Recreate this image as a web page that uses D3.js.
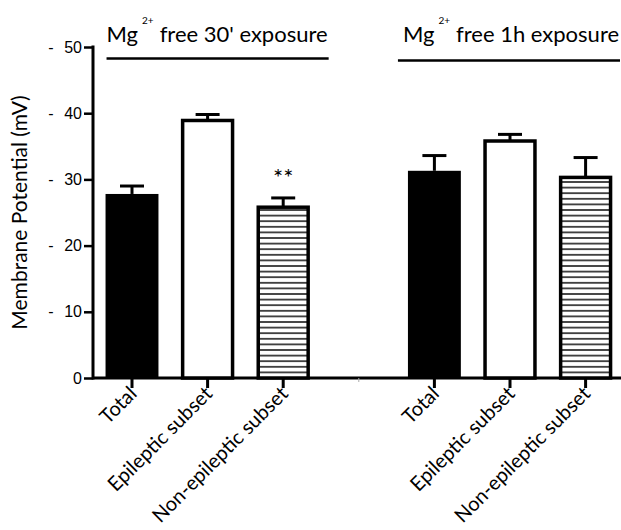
<!DOCTYPE html>
<html>
<head>
<meta charset="utf-8">
<script src="https://cdn.jsdelivr.net/npm/d3@7"></script>
<style>
  body { margin: 0; background: #fff; }
  svg { font-family: Lato, "Open Sans", sans-serif; }
</style>
</head>
<body>
<div id="chart"></div>
<script>
// bar chart, two exposure groups

var groups = ["free 30' exposure", "free 1h exposure"]
var categories = ["Total", "Epileptic subset", "Non-epileptic subset"]
var means30 = [27.8, 38.9, 25.8]
var err30 = [1.2, 0.9, 1.4]
var means1h = [31.3, 35.8, 30.3]
var err1h = [2.3, 1.0, 3.0]
var yTicks = [0, 10, 20, 30, 40, 50]

var width = 621, height = 530

// 7 slots, middle one kept empty as a gap between the groups
var slots = ["a0", "a1", "a2", "gap", "b0", "b1", "b2"]
var rows = []
categories.forEach((c, i) => rows.push({slot: slots[i], name: c, kind: i, value: means30[i], err: err30[i]}))
categories.forEach((c, i) => rows.push({slot: slots[i + 4], name: c, kind: i, value: means1h[i], err: err1h[i]}))

var x = d3.scaleBand()
    .domain(slots)
    .range([94.2, 623.4])
    .paddingInner(0.3)
    .paddingOuter(0.15)

var y = d3.scaleLinear()
    .domain([0, 50])
    .range([378, 47])

const svg = d3.select('#chart')
  .append('svg')
    .attr('width', width)
    .attr('height', height)

var defs = svg.append('defs')
var pat = defs.append('pattern')
    .attr('id', 'stripes')
    .attr('patternUnits', 'userSpaceOnUse')
    .attr('width', 8)
    .attr('height', 5.6)
pat.append('rect').attr('width', 8).attr('height', 5.6).attr('fill', '#fff')
pat.append('rect').attr('y', 2).attr('width', 8).attr('height', 1.6).attr('fill', '#222')

// y axis
var yAxis = g => g
    .attr('transform', 'translate(93,0)')
    .call(d3.axisLeft(y).tickValues(yTicks).tickSize(9).tickPadding(2).tickSizeOuter(0))
    .call(g => g.select('.domain').attr('stroke-width', 3).attr('d', 'M0,' + (y(0) + 1.5) + 'V' + (y(50) - 1.5)))
    .call(g => g.selectAll('.tick line').attr('stroke-width', 2.5))
    .call(g => g.selectAll('.tick text').attr('font-size', 16).attr('fill', '#000'))
    .call(g => g.selectAll('.tick').filter(d => d > 0).append('text')
        .attr('x', -42)
        .attr('dy', '0.32em')
        .attr('text-anchor', 'middle')
        .attr('font-size', 16)
        .attr('fill', '#000')
        .text('-'))

svg.append('g').call(yAxis)

// x axis
svg.append('line')
    .attr('x1', 93)
    .attr('x2', width)
    .attr('y1', y(0))
    .attr('y2', y(0))
    .attr('stroke', '#000')
    .attr('stroke-width', 3)

var xa = svg.append('g')
    .attr('transform', 'translate(0,' + y(0) + ')')
    .call(d3.axisBottom(x).tickSize(10).tickSizeOuter(0).tickFormat(''))
xa.select('.domain').remove()
xa.selectAll('.tick line').attr('stroke-width', 3)
xa.selectAll('.tick').filter(d => d === 'gap').select('line')
    .attr('stroke', '#aaa').attr('stroke-width', 1).attr('y2', 4)

svg.append('g')
  .selectAll('text')
  .data(rows)
  .join('text')
    .attr('transform', d => 'translate(' + (x(d.slot) + x.bandwidth() / 2 + 6) + ',' + (y(0) + 17) + ') rotate(-45)')
    .attr('text-anchor', 'end')
    .attr('font-size', 20)
    .text(d => d.name)

// bars
var fills = ['#000', '#fff', 'url(#stripes)']
svg.append('g')
  .selectAll('rect')
  .data(rows)
  .join('rect')
    .attr('x', d => x(d.slot) + (d.kind === 0 ? 0 : 1.5))
    .attr('width', d => x.bandwidth() - (d.kind === 0 ? 0 : 3))
    .attr('y', d => y(d.value))
    .attr('height', d => y(0) - y(d.value))
    .attr('fill', d => fills[d.kind])
    .attr('stroke', d => d.kind === 0 ? 'none' : '#000')
    .attr('stroke-width', 3.5)

// error bars
var eb = svg.append('g')
    .attr('stroke', '#000')
    .attr('stroke-width', 3)
eb.selectAll('.stem')
  .data(rows)
  .join('line')
    .attr('class', 'stem')
    .attr('x1', d => x(d.slot) + x.bandwidth() / 2)
    .attr('x2', d => x(d.slot) + x.bandwidth() / 2)
    .attr('y1', d => y(d.value))
    .attr('y2', d => y(d.value + d.err))
eb.selectAll('.cap')
  .data(rows)
  .join('line')
    .attr('class', 'cap')
    .attr('x1', d => x(d.slot) + x.bandwidth() / 2 - 12)
    .attr('x2', d => x(d.slot) + x.bandwidth() / 2 + 12)
    .attr('y1', d => y(d.value + d.err))
    .attr('y2', d => y(d.value + d.err))

// significance mark
var star = rows[2]
svg.append('text')
    .attr('x', x(star.slot) + x.bandwidth() / 2)
    .attr('y', y(star.value + star.err) - 12)
    .attr('text-anchor', 'middle')
    .attr('font-size', 24)
    .text('**')

// group titles and lines
var groupSlots = [["a0", "a2"], ["b0", "b2"]]
var gTitle = svg.append('g')
  .selectAll('g')
  .data(groups)
  .join('g')
gTitle.append('line')
    .attr('x1', (d, i) => i === 0 ? x(groupSlots[i][0]) + 1 : x(groupSlots[i][0]) - 10)
    .attr('x2', (d, i) => i === 0 ? x(groupSlots[i][1]) + x.bandwidth() + 19 : width - 1)
    .attr('y1', (d, i) => i === 0 ? 58.5 : 60.5)
    .attr('y2', (d, i) => i === 0 ? 58.5 : 60.5)
    .attr('stroke', '#000')
    .attr('stroke-width', 2.5)
var tt = gTitle.append('text')
    .attr('x', (d, i) => i === 0 ? x(groupSlots[i][0]) + 1 : x(groupSlots[i][0]) - 5)
    .attr('y', 42)
    .attr('font-size', 22)
tt.append('tspan').text('Mg')
tt.append('tspan')
    .attr('dx', 4)
    .attr('dy', -18)
    .attr('font-size', 10)
    .text('2+')
tt.append('tspan')
    .attr('dx', 6)
    .attr('dy', 18)
    .text(d => d)

// y label
svg.append('text')
    .attr('transform', 'translate(27,' + y(25) + ') rotate(-90)')
    .attr('text-anchor', 'middle')
    .attr('font-size', 21)
    .text('Membrane Potential (mV)')
</script>
</body>
</html>
